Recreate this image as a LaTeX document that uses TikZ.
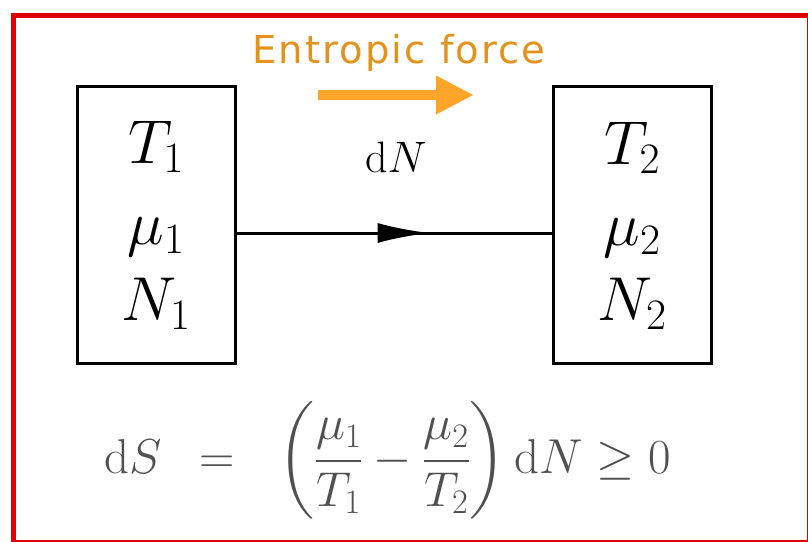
\documentclass[tikz,border=0pt]{standalone}
\usepackage{fix-cm}
\usepackage{amsmath,amssymb}
\usepackage{fontspec}
\newfontfamily\labelfont[LetterSpace=5.5]{DejaVu Sans}
\usetikzlibrary{arrows.meta,decorations.markings}
\definecolor{frameRed}{HTML}{E00000}
\definecolor{forceText}{HTML}{E4921C}
\definecolor{forceArrow}{HTML}{FFA52A}
\definecolor{eqGray}{HTML}{505050}
\tikzset{
  reservoir/.style={draw=black, line width=3pt, minimum width=158pt, minimum height=277pt, inner sep=0pt},
  boxtext/.style={anchor=base, inner sep=0pt, font=\fontsize{62}{70}\selectfont},
  flow/.style={line width=3pt, postaction={decorate}, decoration={markings, mark=at position 0.613 with {\arrow{Latex[length=52pt,width=20pt]}}}},
  forcearrow/.style={draw=forceArrow, line width=10pt, -{Triangle[length=38pt,width=36pt]}},
}
\begin{document}
\begin{tikzpicture}[x=1pt,y=-1pt]
\useasboundingbox (0,0) rectangle (808,541);
\draw[frameRed, line width=5pt] (13,15) rectangle (809,542);
\node[anchor=base, inner sep=0pt, text=forceText, font=\labelfont\fontsize{38.5}{42}\selectfont] (ef) at (399,63) {Entropic force};
\coordinate (fa) at (318,95);
\coordinate (fb) at (474,95);
\draw[forcearrow] (fa) -- (fb);
\node[reservoir] (L) at (156,224.5) {};
\node[reservoir] (R) at (632,224.5) {};
\node[boxtext] (t1) at (156,163) {$T_1$};
\node[boxtext] (m1) at (156,244) {$\mu_1$};
\node[boxtext] (n1) at (156,320) {$N_1$};
\node[boxtext] (t2) at (632,164) {$T_2$};
\node[boxtext] (m2) at (632,245) {$\mu_2$};
\node[boxtext] (n2) at (632,320) {$N_2$};
\draw[flow] ([yshift=-8.5pt]L.east) -- ([yshift=-8.5pt]R.west);
\node[anchor=base, inner sep=0pt, font=\fontsize{44}{48}\selectfont] (dn) at (396,172) {$\mathrm{d}N$};
\node[anchor=base west, inner sep=0pt, text=eqGray, font=\fontsize{49}{53}\selectfont] (eq) at (104,473) {$\mathrm{d}S\hspace{0.5em}=\hspace{0.62em}\left(\dfrac{\mu_1}{T_1}-\dfrac{\mu_2}{T_2}\right)\mathrm{d}N \geq 0$};
\end{tikzpicture}
\end{document}
